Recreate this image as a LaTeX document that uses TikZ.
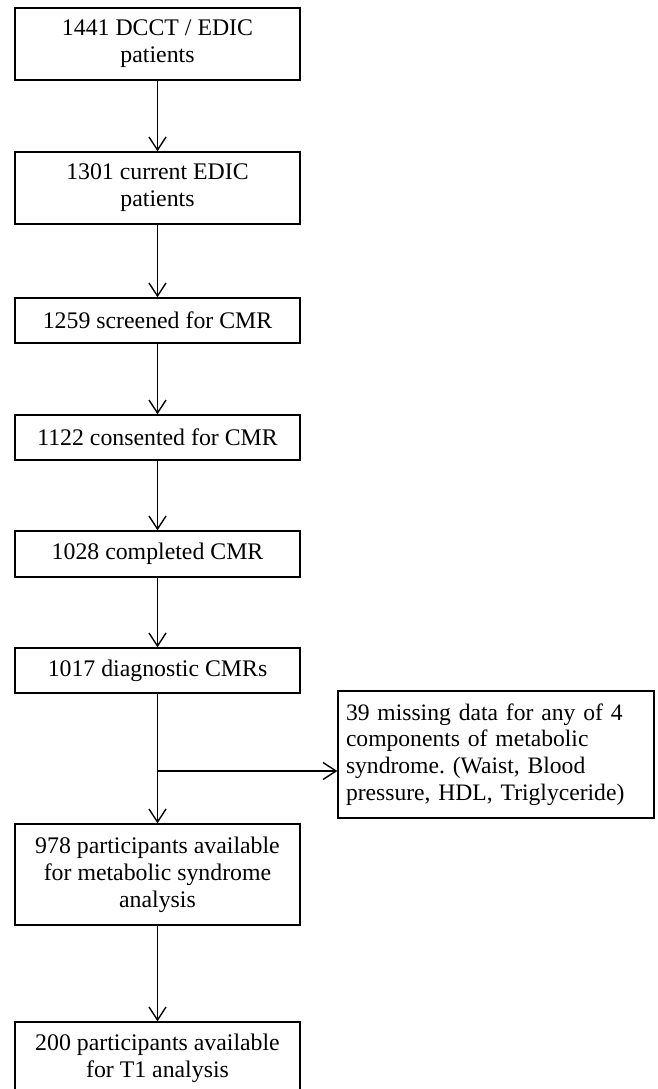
\documentclass[tikz,border=0pt]{standalone}
\usepackage{fontspec}
\setmainfont{Liberation Serif}
\usetikzlibrary{arrows.meta}
\frenchspacing
\begin{document}
\begin{tikzpicture}[x=1pt,y=-1pt,line width=1.4pt,
    box/.style={draw, minimum width=285pt, align=center, inner sep=0pt,
      font=\fontsize{23.8}{27}\selectfont},
    sidebox/.style={draw, text width=300pt, align=left, inner xsep=8pt,
      minimum height=127pt, font=\fontsize{23.6}{26.7}\selectfont},
    >={Straight Barb[length=13pt,width=17pt]}]
  \useasboundingbox (0,0) rectangle (658,1089);
  \node[box, minimum height=72pt] (dcct) at (157.5,44) {1441 DCCT / EDIC\\patients};
  \node[box, minimum height=72pt] (edic) at (157.5,188) {1301 current EDIC\\patients};
  \node[box, minimum height=45pt] (screened) at (157.5,320.5) {1259 screened for CMR};
  \node[box, minimum height=45pt] (consented) at (157.5,437.5) {1122 consented for CMR};
  \node[box, minimum height=46pt] (completed) at (157.5,554) {1028 completed CMR};
  \node[box, minimum height=45pt] (diagnostic) at (157.5,670.5) {1017 diagnostic CMRs};
  \node[box, minimum height=101pt] (metabolic) at (157.5,874.5) {978 participants available\\for metabolic syndrome\\analysis};
  \node[box, minimum height=72pt] (tone) at (157.5,1058) {200 participants available\\for T1 analysis};
  \node[sidebox] (missing) at (496,754.5) {39 missing data for any of 4\\components of metabolic\\syndrome. (Waist, Blood\\pressure, HDL, Triglyceride)};
  \coordinate (split) at (157.5,771);

  \draw[->] (dcct) -- (edic);
  \draw[->] (edic) -- (screened);
  \draw[->] (screened) -- (consented);
  \draw[->] (consented) -- (completed);
  \draw[->] (completed) -- (diagnostic);
  \draw[->] (diagnostic) -- (metabolic);
  \draw[->] (split) -- (split -| missing.west);
  \draw[->] (metabolic) -- (tone);
\end{tikzpicture}
\end{document}
